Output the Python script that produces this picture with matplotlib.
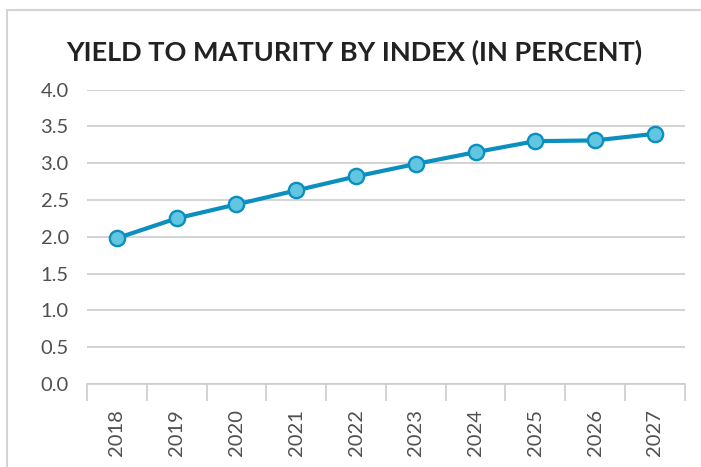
import matplotlib
matplotlib.use("Agg")
import matplotlib.pyplot as plt
from matplotlib.lines import Line2D

years = ["2018", "2019", "2020", "2021", "2022", "2023", "2024", "2025", "2026", "2027"]
ytm = [1.98, 2.25, 2.44, 2.63, 2.82, 2.99, 3.15, 3.30, 3.31, 3.40]
yticks = [0.0, 0.5, 1.0, 1.5, 2.0, 2.5, 3.0, 3.5, 4.0]

plt.rcParams['font.family'] = ['Lato', 'DejaVu Sans']

fig = plt.figure(figsize=(7.01, 4.67), dpi=100)
ax = fig.add_axes([0.124, 0.178, 0.853, 0.63])

# outer frame (top and left edge only visible)
fig.add_artist(Line2D([7/701, 1], [1 - 10/467, 1 - 10/467], color='#d4d4d4', lw=1.5,
                      transform=fig.transFigure))
fig.add_artist(Line2D([7/701, 7/701], [0, 1 - 10/467], color='#d4d4d4', lw=1.5,
                      transform=fig.transFigure))

x = list(range(len(years)))
ax.plot(x, ytm, color='#0b8fbf', lw=3.0, marker='o', markersize=11,
        markerfacecolor='#62c6e0', markeredgecolor='#0b8fbf', markeredgewidth=1.7,
        zorder=3, clip_on=False)

ax.set_xlim(-0.5, len(years) - 0.5)
ax.set_ylim(0, 4)
ax.set_yticks(yticks)
ax.set_yticklabels([f"{v:.1f}" for v in yticks], fontsize=14.5, color='#505050')
ax.tick_params(axis='y', length=0, pad=13)

ax.set_xticks(x)
ax.set_xticklabels(years, rotation=90, fontsize=14.5, color='#505050')
ax.tick_params(axis='x', which='major', length=0, pad=18)
ax.set_xticks([i - 0.5 for i in range(len(years) + 1)], minor=True)
ax.tick_params(axis='x', which='minor', length=12, width=1.2, color='#cccccc', direction='out')

ax.grid(axis='y', color='#cccccc', lw=1.2)
ax.set_axisbelow(True)
for s in ['top', 'right', 'left']:
    ax.spines[s].set_visible(False)
ax.spines['bottom'].set_color('#cccccc')
ax.spines['bottom'].set_linewidth(1.2)

fig.text(0.505, 1 - 52/467, "YIELD TO MATURITY BY INDEX (IN PERCENT)", ha='center', va='center',
         fontsize=19.5, fontweight='bold', color='#222222')

fig.savefig("out.png", dpi=100)
